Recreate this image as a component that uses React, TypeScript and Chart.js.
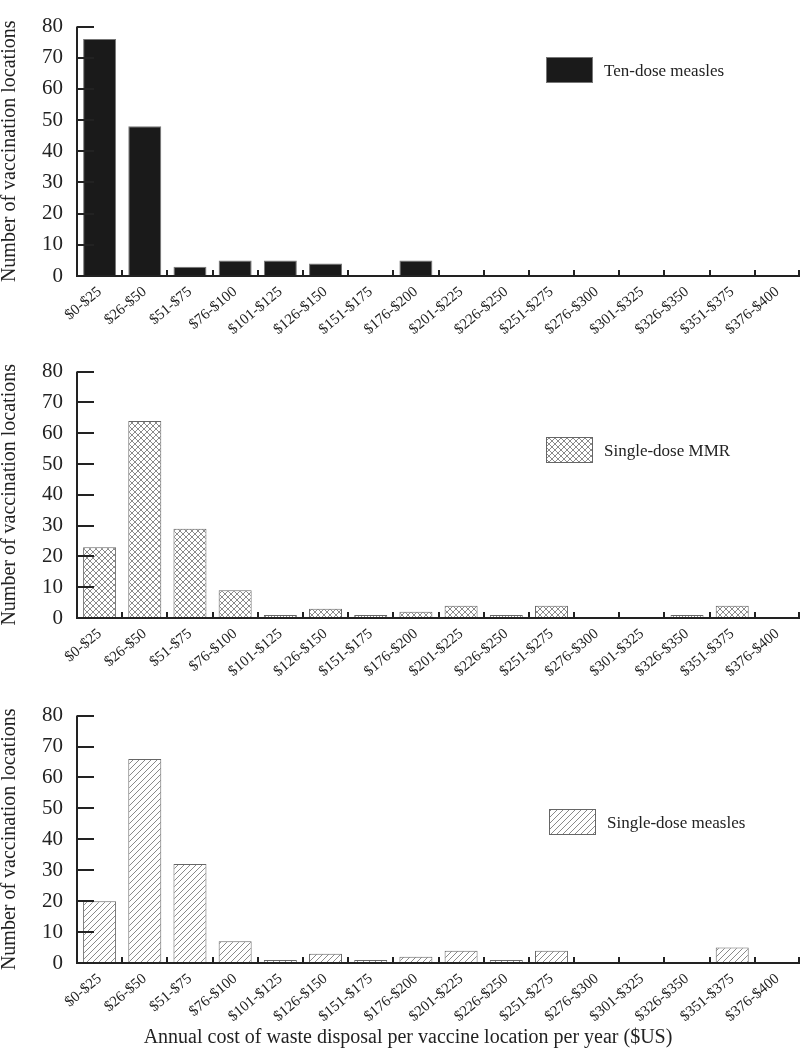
import React, { useEffect, useRef } from 'react';
import { Chart, registerables } from 'chart.js';

Chart.register(...registerables);

const categories = [
  '$0-$25', '$26-$50', '$51-$75', '$76-$100', '$101-$125', '$126-$150', '$151-$175', '$176-$200',
  '$201-$225', '$226-$250', '$251-$275', '$276-$300', '$301-$325', '$326-$350', '$351-$375', '$376-$400',
];
const tenDoseMeasles = [76, 48, 3, 5, 5, 4, 0, 5, 0, 0, 0, 0, 0, 0, 0, 0];
const singleDoseMMR = [23, 64, 29, 9, 1, 3, 1, 2, 4, 1, 4, 0, 0, 1, 4, 0];
const singleDoseMeasles = [20, 66, 32, 7, 1, 3, 1, 2, 4, 1, 4, 0, 0, 0, 5, 0];
const seriesLabels = ['Ten-dose measles', 'Single-dose MMR', 'Single-dose measles'];
const yMin = 0;
const yMax = 80;
const yStep = 10;
const yAxisTitle = 'Number of vaccination locations';
const xAxisTitle = 'Annual cost of waste disposal per vaccine location per year ($US)';

const FONT = "'Liberation Serif', 'Times New Roman', serif";
const INK = '#222';

function makePattern(kind: 'cross' | 'slash'): CanvasPattern | string {
  const size = 6;
  const c = document.createElement('canvas');
  c.width = size;
  c.height = size;
  const g = c.getContext('2d');
  if (!g) return '#fff';
  g.fillStyle = '#fff';
  g.fillRect(0, 0, size, size);
  g.fillStyle = '#8a8a8a';
  for (let i = 0; i < size; i++) {
    g.fillRect(i, size - 1 - i, 1, 1);
    if (kind === 'cross') g.fillRect(i, i, 1, 1);
  }
  const p = g.createPattern(c, 'repeat');
  return p || '#fff';
}

type PanelProps = {
  top: number;
  height: number;
  axisHeight: number;
  values: number[];
  label: string;
  fill: 'solid' | 'cross' | 'slash';
  legendX: number;
  legendY: number;
  showXTitle: boolean;
};

function Panel(props: PanelProps) {
  const ref = useRef<HTMLCanvasElement | null>(null);
  useEffect(() => {
    const canvas = ref.current;
    if (!canvas) return;
    const bg = props.fill === 'solid' ? '#1a1a1a' : makePattern(props.fill);
    const border = props.fill === 'solid' ? '#777' : '#666';

    const overlay = {
      id: 'overlay',
      afterDatasetsDraw(chart: any) {
        const ctx = chart.ctx;
        const { left, right, top, bottom } = chart.chartArea;
        const ys = chart.scales.y;
        const xs = chart.scales.x;
        ctx.save();
        ctx.strokeStyle = INK;
        ctx.lineWidth = 2;
        ctx.lineCap = 'butt';
        ctx.beginPath();
        ctx.moveTo(left, top);
        ctx.lineTo(left, bottom + 1);
        ctx.moveTo(left - 1, bottom);
        ctx.lineTo(right, bottom);
        for (const t of ys.ticks) {
          const y = Math.round(ys.getPixelForValue(t.value));
          ctx.moveTo(left, y);
          ctx.lineTo(left + 17, y);
        }
        const n = categories.length;
        const half = (right - left) / n / 2;
        for (let i = 0; i < n; i++) {
          const x = Math.round(xs.getPixelForValue(i) + half) - (i === n - 1 ? 1 : 0);
          ctx.moveTo(x, bottom);
          ctx.lineTo(x, bottom - 6);
        }
        ctx.stroke();

        // legend
        const ds = chart.data.datasets[0];
        ctx.fillStyle = ds.backgroundColor;
        ctx.fillRect(props.legendX, props.legendY, 47, 26);
        ctx.strokeStyle = ds.borderColor;
        ctx.lineWidth = 1;
        ctx.strokeRect(props.legendX + 0.5, props.legendY + 0.5, 46, 25);
        ctx.fillStyle = INK;
        ctx.font = `17px ${FONT}`;
        ctx.textAlign = 'left';
        ctx.textBaseline = 'middle';
        ctx.fillText(ds.label, props.legendX + 58, props.legendY + 15);

        if (props.showXTitle) {
          ctx.font = `20px ${FONT}`;
          ctx.textAlign = 'center';
          ctx.textBaseline = 'middle';
          ctx.fillText(xAxisTitle, 408, chart.height - 12);
        }
        ctx.restore();
      },
    };

    const chart = new Chart(canvas, {
      type: 'bar',
      data: {
        labels: categories,
        datasets: [
          {
            label: props.label,
            data: props.values,
            backgroundColor: bg as any,
            borderColor: border,
            borderWidth: 1,
            barPercentage: 0.73,
            categoryPercentage: 1,
          },
        ],
      },
      options: {
        animation: false,
        responsive: false,
        maintainAspectRatio: false,
        layout: { padding: { top: 18, right: 1, left: 0, bottom: 0 } },
        plugins: { legend: { display: false }, tooltip: { enabled: false } },
        scales: {
          x: {
            grid: { display: false, drawTicks: false },
            border: { display: false },
            ticks: {
              autoSkip: false,
              maxRotation: 40,
              minRotation: 40,
              padding: 7,
              color: INK,
              font: { family: FONT, size: 15 },
            },
            afterFit: (s: any) => {
              s.height = props.axisHeight;
            },
          },
          y: {
            min: yMin,
            max: yMax,
            grid: { display: false, drawTicks: false },
            border: { display: false },
            ticks: { stepSize: yStep, padding: 14, color: INK, font: { family: FONT, size: 21 } },
            title: {
              display: true,
              text: yAxisTitle,
              color: INK,
              padding: 0,
              font: { family: FONT, size: 20, lineHeight: 1 },
            },
            afterFit: (s: any) => {
              s.width = 77;
            },
          },
        },
      },
      plugins: [overlay],
    });
    return () => chart.destroy();
  }, []);

  return (
    <canvas
      ref={ref}
      width={801}
      height={props.height}
      style={{ position: 'absolute', left: 0, top: props.top, width: 801, height: props.height, display: 'block' }}
    />
  );
}

export default function App() {
  return (
    <div style={{ position: 'absolute', left: 0, top: 0, width: 801, height: 1050, background: '#fff', overflow: 'hidden' }}>
      <Panel top={0} height={345} axisHeight={69} values={tenDoseMeasles} label={seriesLabels[0]} fill="solid" legendX={546} legendY={57} showXTitle={false} />
      <Panel top={345} height={344} axisHeight={71} values={singleDoseMMR} label={seriesLabels[1]} fill="cross" legendX={546} legendY={92} showXTitle={false} />
      <Panel top={689} height={361} axisHeight={87} values={singleDoseMeasles} label={seriesLabels[2]} fill="slash" legendX={549} legendY={120} showXTitle={true} />
    </div>
  );
}
